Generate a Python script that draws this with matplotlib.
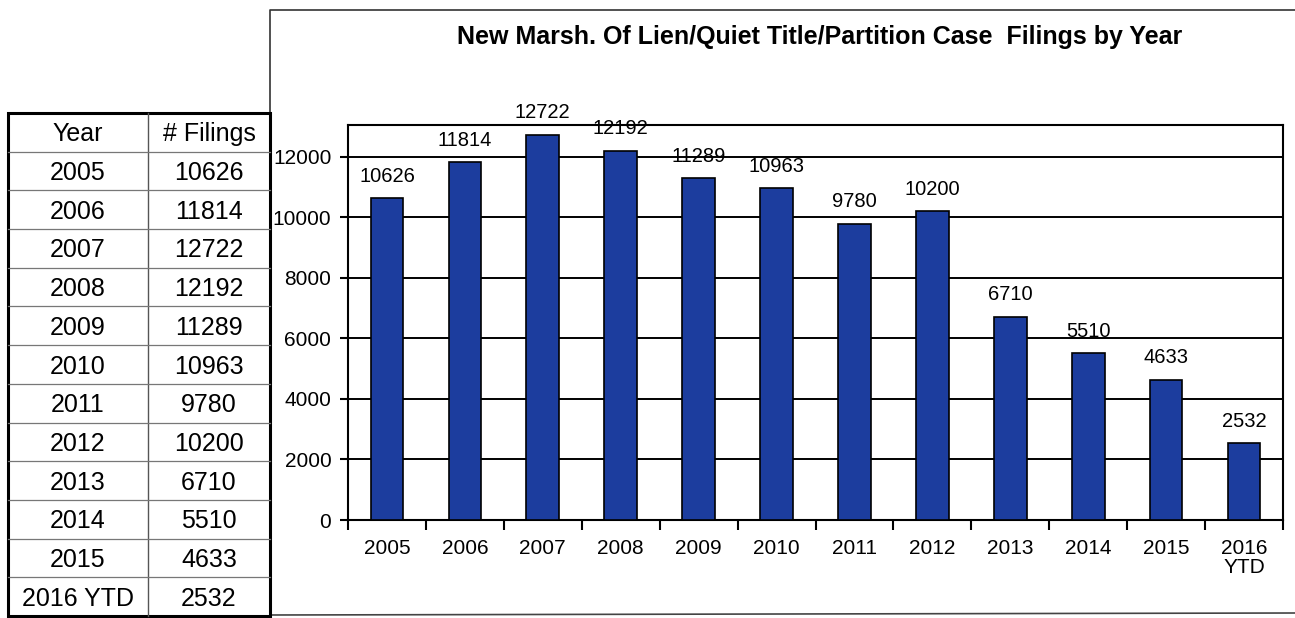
import matplotlib
matplotlib.use("Agg")
import matplotlib.pyplot as plt
from matplotlib.patches import Rectangle

plt.rcParams['font.family'] = ['Liberation Sans', 'DejaVu Sans']

years = ["2005", "2006", "2007", "2008", "2009", "2010", "2011", "2012",
         "2013", "2014", "2015", "2016 YTD"]
filings = [10626, 11814, 12722, 12192, 11289, 10963, 9780, 10200,
           6710, 5510, 4633, 2532]
yticks = [0, 2000, 4000, 6000, 8000, 10000, 12000]
title = "New Marsh. Of Lien/Quiet Title/Partition Case  Filings by Year"
table_header = ["Year", "# Filings"]

W, H = 1295, 618
fig = plt.figure(figsize=(W / 100, H / 100), dpi=100)
fig.patch.set_facecolor("white")

# ---- chart frame (outer border) ----
frame = fig.add_axes([0, 0, 1, 1], zorder=0)
frame.set_xlim(0, W)
frame.set_ylim(H, 0)
frame.axis("off")
frame.plot([270, 270, 1295], [615, 10, 10], color="#333333", lw=1.2)
frame.plot([270, 1295], [615, 613], color="#444444", lw=1.2)

fig.text(820 / W, 1 - 37 / H, title, ha="center", va="center",
         fontsize=18, fontweight="bold")

# ---- bar chart ----
ax = fig.add_axes([348 / W, 98 / H, (1283 - 348) / W, (520 - 125) / H], zorder=2)
x = list(range(len(years)))
ax.bar(x, filings, width=0.42, color="#1c3d9e", edgecolor="black",
       linewidth=1.2, zorder=3)
ax.set_xlim(-0.5, len(years) - 0.5)
ax.set_ylim(0, 13050)
ax.set_yticks(yticks)
ax.set_yticklabels([str(v) for v in yticks], fontsize=15)
ax.set_xticks(x)
ax.set_xticklabels([y.replace(" ", "\n") for y in years], fontsize=15,
                   linespacing=0.95, va="top")
ax.tick_params(axis="x", length=0, pad=14)
ax.set_xticks([i - 0.5 for i in range(len(years) + 1)], minor=True)
ax.tick_params(axis="x", which="minor", length=7, width=1.5, direction="out")
ax.tick_params(axis="y", length=6, width=1.5, direction="out", pad=6)
ax.grid(axis="y", color="black", lw=1.4, zorder=1)
for s in ax.spines.values():
    s.set_color("black")
    s.set_linewidth(1.5)
for xi, v in zip(x, filings):
    ax.annotate(str(v), (xi, v), xytext=(0, 9), textcoords="offset points",
                ha="center", va="bottom", fontsize=14.5)

# ---- table on the left ----
tx = fig.add_axes([0, 0, 1, 1], zorder=1)
tx.set_xlim(0, W)
tx.set_ylim(H, 0)
tx.axis("off")
left, mid, right = 8, 148, 270
top, bottom = 113, 616
nrows = len(years) + 1
rh = (bottom - top) / nrows
tx.add_patch(Rectangle((left, top), right - left, bottom - top, fill=False,
                       edgecolor="black", lw=2.2))
tx.plot([mid, mid], [top, bottom], color="#555555", lw=1.0)
for i in range(1, nrows):
    yy = top + i * rh
    tx.plot([left, right], [yy, yy], color="#777777", lw=0.9)
rows = [table_header] + [[y, str(v)] for y, v in zip(years, filings)]
for i, (a, b) in enumerate(rows):
    yc = top + (i + 0.5) * rh + 2
    tx.text((left + mid) / 2, yc, a, ha="center", va="center", fontsize=18)
    tx.text((mid + right) / 2, yc, b, ha="center", va="center", fontsize=18)

fig.savefig("out.png", dpi=100, facecolor="white")
